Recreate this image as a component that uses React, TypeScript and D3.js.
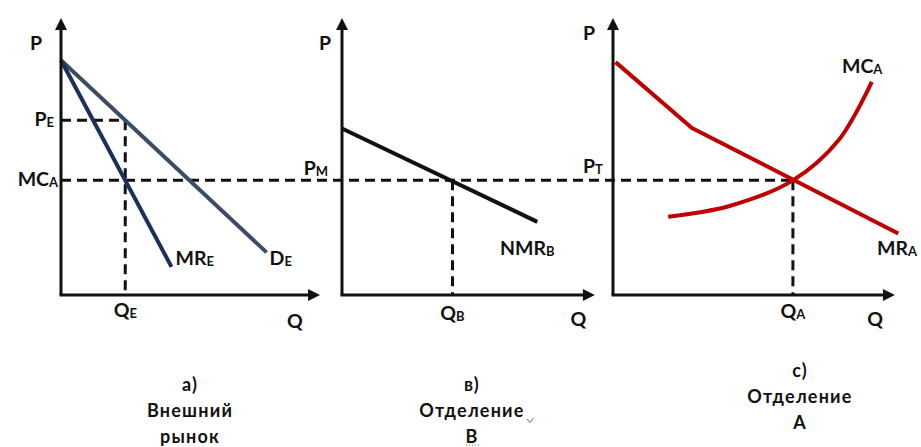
import React from "react";
import * as d3 from "d3";

// ---- Data (price / quantity units, 0..100 per axis) ----
type Pt = [number, number];

const demandE: Pt[] = [[0, 86], [80, 15.6]];
const marginalRevenueE: Pt[] = [[0, 86], [43, 10.3]];
const netMarginalRevenueB: Pt[] = [[0, 61], [76, 26.8]];
const marginalRevenueA: Pt[] = [[1, 85.3], [30.7, 61.2], [111, 22.5]];
const marginalCostA: Pt[] = [[21.5, 28.7], [45, 32.5], [70, 42], [88, 57], [100.7, 78.1]];

const priceE = 64; // external market price
const transferPrice = 42; // P_M = P_T = MC_A
const qE = 25;
const qB = 43;
const qA = 70;

const panelOrigins = [61, 342, 613];
const xAxisLengths = [100.8, 98.4, 109.7];
const yAxisLength = 101.5;

const captions = [
  ["а)", "Внешний", "рынок"],
  ["в)", "Отделение", "В"],
  ["с)", "Отделение", "А"],
];

const W = 921;
const H = 447;
const FONT = "Lato, 'Open Sans', sans-serif";

const yScale = d3.scaleLinear().domain([0, 100]).range([295, 22]);
const xScales = panelOrigins.map((x0) => d3.scaleLinear().domain([0, 100]).range([x0, x0 + 257]));

const lineGen = (xs: d3.ScaleLinear<number, number>) =>
  d3.line<Pt>().x((d) => xs(d[0])).y((d) => yScale(d[1]));

const curveGen = (xs: d3.ScaleLinear<number, number>) =>
  d3.line<Pt>().x((d) => xs(d[0])).y((d) => yScale(d[1])).curve(d3.curveCatmullRom.alpha(0.5));

function Label({ x, y, main, sub, anchor = "start" }: { x: number; y: number; main: string; sub?: string; anchor?: string }) {
  return (
    <text x={x} y={y} textAnchor={anchor} fontFamily={FONT} fontWeight={700} fontSize={19.5} fill="#111">
      {main}
      {sub ? (
        <tspan fontSize={13} dy={1}>
          {sub}
        </tspan>
      ) : null}
    </text>
  );
}

function Axes({ xs, len }: { xs: d3.ScaleLinear<number, number>; len: number }) {
  const x0 = xs(0);
  const y0 = yScale(0);
  const xEnd = xs(len);
  const yEnd = yScale(yAxisLength);
  return (
    <g>
      <line x1={x0} y1={y0} x2={x0} y2={yEnd + 8} stroke="#111" strokeWidth={3} />
      <line x1={x0 - 1.5} y1={y0} x2={xEnd - 8} y2={y0} stroke="#111" strokeWidth={3} />
      <path d={`M${x0},${yEnd} L${x0 - 6},${yEnd + 12} L${x0 + 6},${yEnd + 12} Z`} fill="#111" />
      <path d={`M${xEnd},${y0} L${xEnd - 12},${y0 - 6} L${xEnd - 12},${y0 + 6} Z`} fill="#111" />
    </g>
  );
}

const dash = { stroke: "#111", strokeWidth: 3, strokeDasharray: "10,6", fill: "none" };

export default function App() {
  const [xa, xb, xc] = xScales;
  const yT = yScale(transferPrice);
  const yE = yScale(priceE);
  const y0 = yScale(0);
  const captionX = [190, 472, 800];
  const captionY = [391, 391, 377];

  return (
    <svg width={W} height={H} style={{ position: "absolute", left: 0, top: 0, background: "#fff" }}>
      {/* guide lines */}
      <line x1={xa(0)} y1={yT} x2={xc(qA)} y2={yT} {...dash} />
      <line x1={xa(0)} y1={yE} x2={xa(qE)} y2={yE} {...dash} />
      <line x1={xa(qE)} y1={yE} x2={xa(qE)} y2={y0} {...dash} />
      <line x1={xb(qB)} y1={yT} x2={xb(qB)} y2={y0} {...dash} />
      <line x1={xc(qA)} y1={yT} x2={xc(qA)} y2={y0} {...dash} />

      {/* curves */}
      <path d={lineGen(xa)(demandE) || ""} stroke="#3b4d63" strokeWidth={4} fill="none" />
      <path d={lineGen(xa)(marginalRevenueE) || ""} stroke="#1d2f5c" strokeWidth={4} fill="none" />
      <path d={lineGen(xb)(netMarginalRevenueB) || ""} stroke="#111" strokeWidth={4} fill="none" />
      <path d={lineGen(xc)(marginalRevenueA) || ""} stroke="#c00000" strokeWidth={4} fill="none" strokeLinejoin="round" />
      <path d={curveGen(xc)(marginalCostA) || ""} stroke="#c00000" strokeWidth={4} fill="none" />

      {xScales.map((xs, i) => (
        <Axes key={i} xs={xs} len={xAxisLengths[i]} />
      ))}

      {/* panel a */}
      <Label x={xa(0) - 25} y={50} main="P" anchor="middle" />
      <Label x={xa(0) - 7} y={yE + 6} main="P" sub="E" anchor="end" />
      <Label x={xa(0) - 3} y={yT + 6} main="MC" sub="A" anchor="end" />
      <Label x={xa(qE)} y={317} main="Q" sub="E" anchor="middle" />
      <Label x={xa(91)} y={328} main="Q" anchor="middle" />
      <Label x={xa(marginalRevenueE[1][0]) + 4} y={265} main="MR" sub="E" />
      <Label x={xa(demandE[1][0]) + 3} y={265} main="D" sub="E" />

      {/* panel b */}
      <Label x={xb(0) - 17} y={50} main="P" anchor="middle" />
      <Label x={xb(0) - 14} y={yT - 5} main="P" sub="M" anchor="end" />
      <Label x={xb(qB)} y={320} main="Q" sub="B" anchor="middle" />
      <Label x={xb(92)} y={326} main="Q" anchor="middle" />
      <Label x={500} y={255} main="NMR" sub="B" />

      {/* panel c */}
      <Label x={xc(0) - 24} y={40} main="P" anchor="middle" />
      <Label x={583} y={yT - 7} main="P" sub="T" />
      <Label x={xc(qA)} y={318} main="Q" sub="A" anchor="middle" />
      <Label x={xc(102)} y={326} main="Q" anchor="middle" />
      <Label x={842} y={73} main="MC" sub="A" />
      <Label x={877} y={255} main="MR" sub="A" />

      {/* captions */}
      {captions.map((lines, i) => (
        <text
          key={i}
          x={captionX[i]}
          y={captionY[i]}
          textAnchor="middle"
          fontFamily={FONT}
          fontWeight={700}
          fontSize={18}
          letterSpacing={1.2}
          fill="#111"
        >
          {lines.map((t, j) => (
            <tspan key={j} x={captionX[i]} dy={j === 0 ? 0 : 26}>
              {t}
            </tspan>
          ))}
        </text>
      ))}
      <path d="M527,419 L530,422.5 L533.5,418" stroke="#3a9a3a" strokeWidth={1} fill="none" />
      <line x1={466} y1={445} x2={480} y2={445} stroke="#3a9a3a" strokeWidth={1} strokeDasharray="1,2" />
    </svg>
  );
}
